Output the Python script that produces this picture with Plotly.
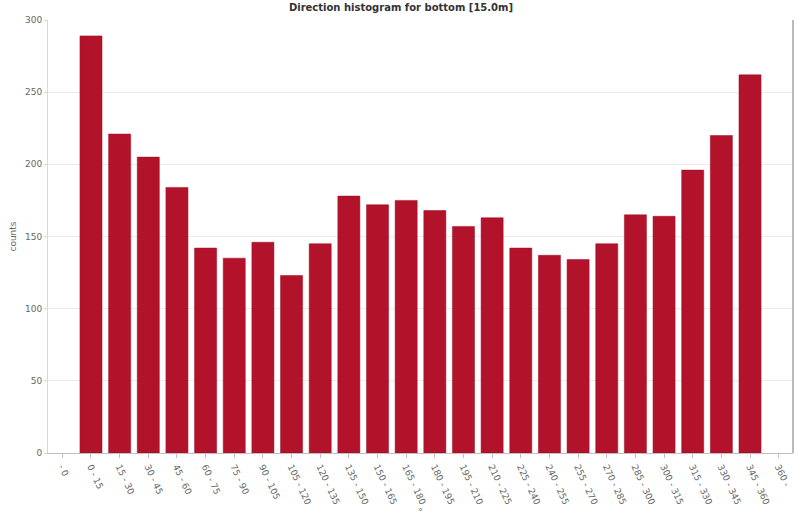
import plotly.graph_objects as go

categories = ["- 0", "0 - 15", "15 - 30", "30 - 45", "45 - 60", "60 - 75", "75 - 90",
              "90 - 105", "105 - 120", "120 - 135", "135 - 150", "150 - 165",
              "165 - 180", "180 - 195", "195 - 210", "210 - 225", "225 - 240",
              "240 - 255", "255 - 270", "270 - 285", "285 - 300", "300 - 315",
              "315 - 330", "330 - 345", "345 - 360", "360 -"]
counts = [None, 289, 221, 205, 184, 142, 135, 146, 123, 145, 178, 172, 175, 168,
          157, 163, 142, 137, 134, 145, 165, 164, 196, 220, 262, None]
y_ticks = [0, 50, 100, 150, 200, 250, 300]

fig = go.Figure()
fig.add_trace(go.Bar(
    x=categories, y=counts,
    marker=dict(color="#b3122b", line=dict(color="#9a0f24", width=0.5)),
))

fig.update_layout(
    width=802, height=525,
    margin=dict(l=48, r=9, t=20, b=72),
    paper_bgcolor="white", plot_bgcolor="white",
    bargap=0.23,
    showlegend=False,
    font=dict(family="DejaVu Sans, Verdana, sans-serif", size=9, color="#666666"),
    title=dict(text="<b>Direction histogram for bottom [15.0m]</b>",
               x=0.5, xanchor="center", y=0.992, yanchor="top",
               font=dict(size=10, color="#333333")),
    xaxis=dict(
        type="category", tickangle=65,
        showline=True, linecolor="#c0c0c0", linewidth=1,
        ticks="outside", tickcolor="#c0c0c0", ticklen=4,
        showgrid=False,
        title=dict(text="°", font=dict(size=9, color="#666666"), standoff=2),
        tickfont=dict(size=9, color="#666666"),
    ),
    yaxis=dict(
        range=[0, 300], tickvals=y_ticks,
        showline=True, linecolor="#d8d8d8", linewidth=1,
        ticks="outside", tickcolor="#d8d8d8", ticklen=3,
        showgrid=True, gridcolor="#ebebeb", gridwidth=1,
        zeroline=False,
        title=dict(text="counts", font=dict(size=9, color="#666666"), standoff=6),
        tickfont=dict(size=9, color="#666666"),
    ),
)
# right border of plot area
fig.add_shape(type="line", xref="paper", yref="paper", x0=1, x1=1, y0=0, y1=1,
              line=dict(color="#bbbbbb", width=2))

fig.write_html("out.html")
